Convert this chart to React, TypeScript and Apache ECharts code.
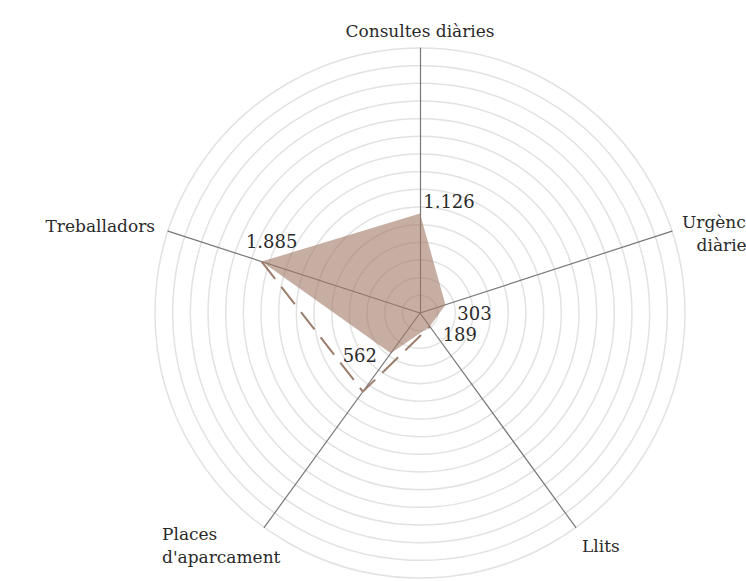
import React, { useEffect, useRef } from "react";
import * as echarts from "echarts";

// Indicators in counter-clockwise order starting at the top
const indicatorNames = [
  "Consultes diàries",
  "Treballadors",
  "Places d'aparcament",
  "Llits",
  "Urgències diàries",
];
const indicatorMax = [3000, 3000, 3000, 3000, 3000];
const values = [1126, 1885, 562, 189, 303];
// dashed comparison path (Treballadors -> Places d'aparcament -> Llits)
const dashedIdx = [1, 2, 3];
const dashedValues = [1885, 1100, 189];

const fmt = (v: number) => String(v).replace(/\B(?=(\d{3})+(?!\d))/g, ".");

const CX = 420;
const CY = 313;
const R = 265;
const LABEL_OFFSETS: [number, number][] = [
  [29, -12],
  [10, -20],
  [-31, 2],
  [30, 8],
  [29, 9],
];

export default function App() {
  const ref = useRef<HTMLDivElement>(null);
  useEffect(() => {
    document.body.style.margin = "0";
    const chart = echarts.init(ref.current!, null, { renderer: "svg" });
    const n = indicatorNames.length;
    const angles = indicatorNames.map((_, i) => (i * 360) / n);
    const textColor = "#2a2a2a";
    const font = "DejaVu Serif";
    chart.setOption({
      animation: false,
      backgroundColor: "#fff",
      radar: {
        center: [CX, CY],
        radius: R,
        shape: "circle",
        startAngle: 90,
        splitNumber: 15,
        indicator: indicatorNames.map((name, i) => ({ name, min: 0, max: indicatorMax[i] })),
        axisName: { show: false },
        axisLine: { lineStyle: { color: "#777", width: 1.2 } },
        splitLine: { lineStyle: { color: "#e2e2e2", width: 1.5 } },
        splitArea: { show: false },
      },
      polar: { center: [CX, CY], radius: [0, R] },
      angleAxis: {
        type: "value",
        min: 0,
        max: 360,
        startAngle: 90,
        clockwise: false,
        show: false,
      },
      radiusAxis: { type: "value", min: 0, max: 3000, show: false },
      series: [
        {
          type: "radar",
          symbol: "none",
          lineStyle: { width: 0, opacity: 0 },
          areaStyle: { color: "#a07864", opacity: 0.6 },
          data: [{ value: values, name: "Valors" }],
        },
        {
          type: "line",
          coordinateSystem: "polar",
          symbol: "none",
          lineStyle: { color: "#9c7d6c", width: 2, type: [22, 10] },
          data: dashedValues.map((v, k) => [v, angles[dashedIdx[k]]]),
          z: 5,
        },
        {
          type: "scatter",
          coordinateSystem: "polar",
          symbolSize: 0.1,
          itemStyle: { color: "rgba(0,0,0,0)", opacity: 1 },
          data: values.map((v, i) => ({
            value: [v, angles[i]],
            label: {
              show: true,
              position: "inside",
              offset: LABEL_OFFSETS[i],
              formatter: () => fmt(v),
              color: textColor,
              opacity: 1,
              textBorderWidth: 0,
              fontFamily: font,
              fontSize: 18,
              align: "center",
              verticalAlign: "middle",
            },
          })),
          z: 6,
        },
      ],
      graphic: [
        {
          type: "text",
          x: 420,
          y: 31,
          style: { text: indicatorNames[0], fill: textColor, fontFamily: font, fontSize: 17, align: "center", verticalAlign: "middle" },
        },
        {
          type: "text",
          x: 155,
          y: 226,
          style: { text: indicatorNames[1], fill: textColor, fontFamily: font, fontSize: 17, align: "right", verticalAlign: "middle" },
        },
        {
          type: "text",
          x: 162,
          y: 545,
          style: { text: "Places\nd'aparcament", fill: textColor, fontFamily: font, fontSize: 17, lineHeight: 23, align: "left", verticalAlign: "middle" },
        },
        {
          type: "text",
          x: 582,
          y: 546,
          style: { text: indicatorNames[3], fill: textColor, fontFamily: font, fontSize: 17, align: "left", verticalAlign: "middle" },
        },
        {
          type: "text",
          x: 726,
          y: 233,
          style: { text: "Urgències\ndiàries", fill: textColor, fontFamily: font, fontSize: 17, lineHeight: 23, align: "center", verticalAlign: "middle" },
        },
      ],
    });
    return () => chart.dispose();
  }, []);
  return <div ref={ref} style={{ width: 746, height: 581 }} />;
}
